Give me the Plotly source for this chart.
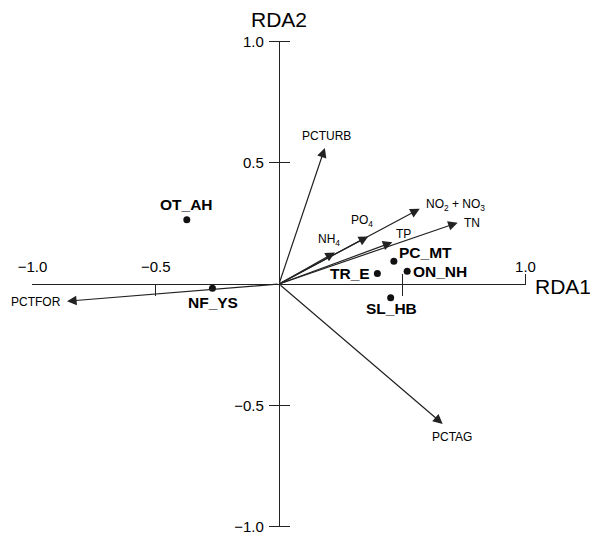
import plotly.graph_objects as go

# ---- data ----
site_names = ["OT_AH", "NF_YS", "PC_MT", "TR_E", "ON_NH", "SL_HB"]
site_x = [-0.374, -0.270, 0.466, 0.399, 0.520, 0.453]
site_y = [0.265, -0.018, 0.094, 0.043, 0.053, -0.057]

var_names = ["PCTURB", "NO<sub>2</sub> + NO<sub>3</sub>", "TN", "TP",
             "PO<sub>4</sub>", "NH<sub>4</sub>", "PCTAG", "PCTFOR"]
var_x = [0.186, 0.571, 0.725, 0.460, 0.362, 0.227, 0.664, -0.860]
var_y = [0.561, 0.310, 0.253, 0.172, 0.196, 0.130, -0.577, -0.071]

x_tickvals = [-1.0, -0.5, 0.5, 1.0]
x_ticktext = ["\u22121.0", "\u22120.5", "", "1.0"]
y_tickvals = [-1.0, -0.5, 0.5, 1.0]
y_ticktext = ["\u22121.0", "\u22120.5", "0.5", "1.0"]

# ---- label placement (styling) ----
site_label_style = {
    "OT_AH": dict(xanchor="center", xshift=0, yshift=15),
    "NF_YS": dict(xanchor="center", xshift=1, yshift=-14),
    "PC_MT": dict(xanchor="left", xshift=3, yshift=9),
    "TR_E": dict(xanchor="right", xshift=-5, yshift=0),
    "ON_NH": dict(xanchor="left", xshift=4, yshift=0),
    "SL_HB": dict(xanchor="center", xshift=1, yshift=-11),
}
var_label_style = [
    dict(xanchor="center", xshift=2, yshift=12),
    dict(xanchor="left", xshift=4, yshift=4),
    dict(xanchor="left", xshift=4, yshift=0),
    dict(xanchor="left", xshift=2, yshift=8),
    dict(xanchor="center", xshift=-6, yshift=15),
    dict(xanchor="center", xshift=-6, yshift=12),
    dict(xanchor="center", xshift=9, yshift=-13),
    dict(xanchor="right", xshift=-4, yshift=-1),
]

FONT = "Liberation Sans, Arial, Helvetica, sans-serif"
INK = "#222222"

fig = go.Figure()

fig.add_trace(go.Scatter(
    x=site_x, y=site_y, mode="markers",
    marker=dict(size=7, color="#111111"),
    showlegend=False, hoverinfo="skip", cliponaxis=False))

# invisible traces so the overlay axes render
fig.add_trace(go.Scatter(x=[0], y=[0], xaxis="x2", yaxis="y", mode="markers",
                         marker=dict(opacity=0), showlegend=False, hoverinfo="skip"))
fig.add_trace(go.Scatter(x=[0], y=[0], xaxis="x", yaxis="y2", mode="markers",
                         marker=dict(opacity=0), showlegend=False, hoverinfo="skip"))

annotations = []
for name, vx, vy, st in zip(var_names, var_x, var_y, var_label_style):
    annotations.append(dict(
        x=vx, y=vy, ax=0, ay=0, xref="x", yref="y", axref="x", ayref="y",
        text="", showarrow=True, arrowhead=2, arrowsize=1.6, arrowwidth=1.2,
        arrowcolor=INK, standoff=0, startstandoff=0))
    annotations.append(dict(
        x=vx, y=vy, xref="x", yref="y", text=name, showarrow=False,
        yanchor="middle", font=dict(family=FONT, size=12, color="#000"), **st))

for name, sx, sy in zip(site_names, site_x, site_y):
    st = site_label_style[name]
    annotations.append(dict(
        x=sx, y=sy, xref="x", yref="y", text="<b>" + name + "</b>",
        showarrow=False, yanchor="middle",
        font=dict(family=FONT, size=15.5, color="#000"), **st))

annotations.append(dict(x=0, y=1.0, xref="x", yref="y", text="RDA2", showarrow=False,
                        yanchor="bottom", yshift=8,
                        font=dict(family=FONT, size=21, color="#000")))
annotations.append(dict(x=1.0, y=0, xref="x", yref="y", text="RDA1", showarrow=False,
                        xanchor="left", xshift=7, yanchor="middle", yshift=-2,
                        font=dict(family=FONT, size=21, color="#000")))

common_axis = dict(showgrid=False, zeroline=False, range=[-1.002, 1.002],
                   linecolor=INK, linewidth=1.2, tickcolor=INK, tickwidth=1.2,
                   ticklabeloverflow="allow", automargin=False,
                   tickfont=dict(family=FONT, size=15, color="#000"))

# page body has an 8px margin, so the figure is sized/offset to compensate
fig.update_layout(
    width=590, height=527,
    margin=dict(l=24, r=72, t=33, b=8),
    paper_bgcolor="white", plot_bgcolor="white",
    showlegend=False,
    xaxis=dict(anchor="free", position=0.5, side="top", showline=True,
               ticks="inside", ticklen=11, tickvals=x_tickvals, ticktext=x_ticktext,
               ticklabelstandoff=6, **common_axis),
    xaxis2=dict(overlaying="x", anchor="free", position=0.5, side="top",
                showline=False, ticks="outside", ticklen=10,
                tickvals=[0.5, 1.0], showticklabels=False, **common_axis),
    yaxis=dict(anchor="free", position=0.5, side="left", showline=True,
               ticks="outside", ticklen=10, tickvals=y_tickvals, ticktext=y_ticktext,
               ticklabelstandoff=2, **common_axis),
    yaxis2=dict(overlaying="y", anchor="free", position=0.5, side="right",
                showline=False, ticks="outside", ticklen=10,
                tickvals=y_tickvals, showticklabels=False, **common_axis),
    annotations=annotations,
)

fig.write_html("out.html")
